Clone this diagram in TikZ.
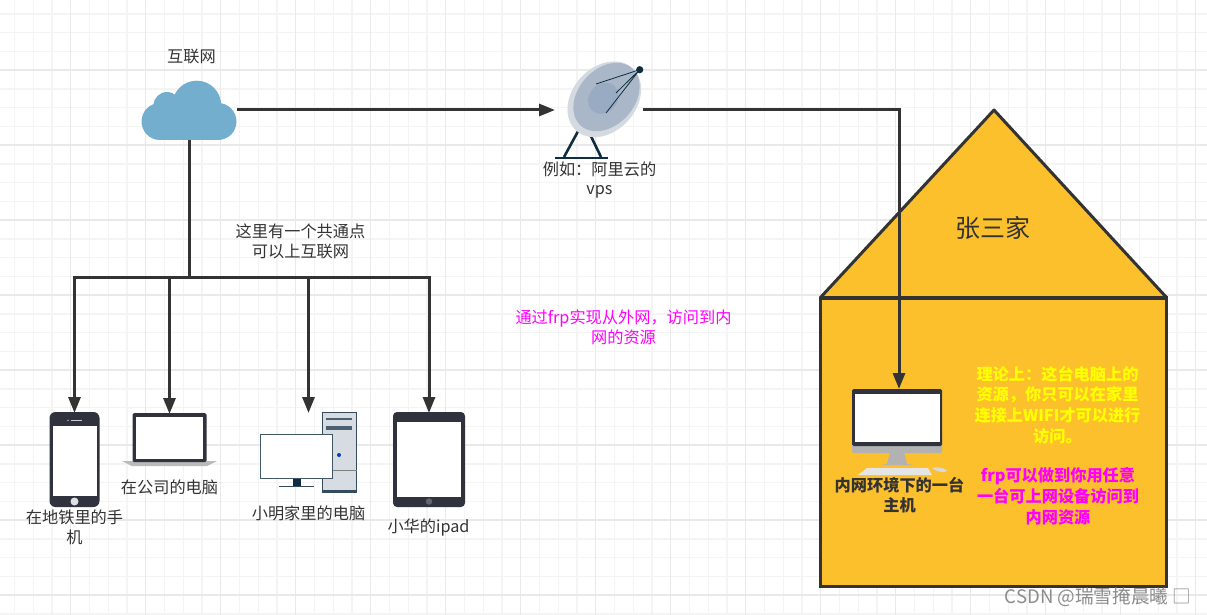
\documentclass[tikz,border=0pt]{standalone}
\usepackage{fontspec}
\setmainfont{Noto Sans CJK SC}
\usetikzlibrary{arrows,arrows.meta,positioning,calc}

\definecolor{gridminor}{HTML}{F4F4F4}
\definecolor{gridmajor}{HTML}{E9E9E9}
\definecolor{linedark}{HTML}{333333}
\definecolor{slatedark}{HTML}{30333E}
\definecolor{navydark}{HTML}{0F2D40}
\definecolor{cloudblue}{HTML}{73AECF}
\definecolor{houseyellow}{HTML}{FCC02D}
\definecolor{dishrim}{HTML}{D5DAE0}
\definecolor{dishface}{HTML}{AAB7C8}
\definecolor{dishcentre}{HTML}{98ABC2}
\definecolor{towergrey}{HTML}{D6DCE1}
\definecolor{notemagenta}{HTML}{FF00FF}
\definecolor{noteyellow}{HTML}{FFFF00}

\tikzset{
    gridthin/.style={draw=gridminor,line width=1.3pt},
    gridthick/.style={draw=gridmajor,line width=1.3pt},
    arc/.style={draw=linedark,line width=3pt,-{Triangle[length=16pt,width=12pt]}},
    arcplain/.style={draw=linedark,line width=3pt},
    label/.style={align=center,text=linedark,font=\fontsize{16.2}{19.8}\selectfont,inner sep=0pt},
    boldlabel/.style={align=center,font=\fontsize{16.2}{20.8}\selectfont\bfseries,inner sep=0pt},
    part/.style={inner sep=0pt,outer sep=0pt,draw=none}
}

\begin{document}
\begin{tikzpicture}[x=1pt,y=-1pt]
    \useasboundingbox (0,0) rectangle (1207,615);
    \fill[white] (0,0) rectangle (1207,615);

    % Grid
    \foreach \gx in {14.45,33.2,...,1207} {\draw[gridthin] (\gx,0) -- (\gx,615);}
    \foreach \gy in {14,32.75,...,615} {\draw[gridthin] (0,\gy) -- (1207,\gy);}
    \foreach \gx in {70.7,145.7,...,1207} {\draw[gridthick] (\gx,0) -- (\gx,615);}
    \foreach \gy in {70,145,...,615} {\draw[gridthick] (0,\gy) -- (1207,\gy);}

    % House
    \fill[houseyellow] (820,298) -- (994,110) -- (1167,298) -- cycle;
    \draw[arcplain,line join=round] (820,298) -- (994,110) -- (1167,298);
    \node[part,fill=houseyellow,draw=linedark,line width=3pt,minimum width=346pt,minimum height=288pt] (house) at (993,442) {};
    \draw[draw=linedark,line width=4pt] (house.north west) -- ([xshift=2pt]house.north east);
    \node[inner sep=0pt,text=linedark,font=\fontsize{25}{28}\selectfont] (houselabel) at (993,228) {张三家};

    % Cloud
    \node[part,minimum width=96pt,minimum height=60pt] (cloud) at (189,110) {};
    \fill[cloudblue] (196.7,105.2) circle (24.5) (167,105.5) circle (13.5) (160,121.5) circle (18.5) (218,121.5) circle (18.5);
    \fill[cloudblue] (160,105) rectangle (218,140);
    \node[label] (cloudlabel) at (191.5,57) {互联网};

    % Dish
    \node[part,minimum width=88pt,minimum height=90pt] (dish) at (599,110) {};
    \draw[navydark,line width=2.6pt] (582,124) -- (564,157) (587,128) -- (601,157);
    \draw[navydark,line width=2.6pt] (555,158) -- (608,158);
    \fill[dishrim,rotate around={48:(604.3,99.3)}] (604.3,99.3) ellipse (42 and 32);
    \fill[dishface,rotate around={48:(606.5,97)}] (606.5,97) ellipse (38.5 and 28);
    \fill[dishcentre,rotate around={48:(603.3,98.3)}] (603.3,98.3) ellipse (16.5 and 14);
    \fill[navydark] (639.7,69.7) circle (3.6);
    \draw[navydark,line width=0.8pt] (596,84) -- (639.7,69.7) (616,93) -- (639.7,69.7) (606,113) -- (639.7,69.7);
    \node[label] (dishlabel) at (599.5,180) {例如：阿里云的\\vps};

    % Phone
    \node[part,fill=slatedark,rounded corners=6pt,minimum width=50pt,minimum height=95pt] (phone) at (74.5,459.5) {};
    \node[part,fill=white,minimum width=44pt,minimum height=70pt] (phonescreen) at (74.5,461) {};
    \node[part,fill=white!85!slatedark,circle,minimum size=8pt] (phonebutton) at (74.5,501.5) {};
    \draw[white!75!slatedark,line width=0.8pt] (71,420.3) -- (82,420.3);
    \fill[white!75!slatedark] (68,420.3) circle (0.8);
    \node[label] (phonelabel) at (74.5,527.5) {在地铁里的手\\机};

    % Laptop
    \fill[black!27] (122,461) -- (217,461) -- (207,466) -- (132,466) -- cycle;
    \node[part,fill=slatedark,rounded corners=1.5pt,minimum width=74pt,minimum height=49pt] (laptop) at (169.5,437.5) {};
    \node[part,fill=white,minimum width=67pt,minimum height=42pt] (laptopscreen) at (169.5,438) {};
    \node[label] (laptoplabel) at (169.5,487) {在公司的电脑};

    % Desktop
    \node[part,minimum width=96pt,minimum height=79pt] (desktop) at (308.5,452.5) {};
    \node[part,fill=towergrey,draw=navydark!85,line width=1pt,minimum width=34pt,minimum height=80pt] (tower) at (339.5,452.5) {};
    \fill[navydark!85] (322,490) rectangle (356.5,493);
    \draw[navydark!75,line width=2pt] (326,418.7) -- (352,418.7);
    \draw[navydark!75,line width=4pt] (326,428.3) -- (352,428.3);
    \draw[black!50,line width=0.6pt] (322,470) -- (356.5,470);
    \fill[blue!70!cyan!80!black] (339,455) circle (2);
    \node[part,fill=white,draw=navydark!80,line width=1pt,minimum width=72pt,minimum height=44.5pt] (monitor) at (296.8,456.5) {};
    \fill[navydark] (293,479) rectangle (300.5,486);
    \draw[navydark!85,line width=1.6pt] (279,486.3) -- (314,486.3);
    \node[label] (desktoplabel) at (308.5,513.5) {小明家里的电脑};

    % Tablet
    \node[part,fill=slatedark,rounded corners=4pt,minimum width=72pt,minimum height=95pt] (tablet) at (429,459.5) {};
    \node[part,fill=white,minimum width=64.5pt,minimum height=75pt] (tabletscreen) at (429,459.5) {};
    \node[part,fill=white!25!slatedark,circle,minimum size=6.5pt] (tabletbutton) at (429,501.5) {};
    \node[label] (tabletlabel) at (428.5,527.5) {小华的ipad};

    % iMac
    \fill[black!30] (890,452) -- (904,452) -- (907,464) -- (914,465) -- (881,465) -- (887,464) -- cycle;
    \node[part,fill=black!30,rounded corners=2pt,minimum width=90pt,minimum height=20pt] (imacchin) at (897,443) {};
    \node[part,fill=slatedark,rounded corners=1.5pt,minimum width=90pt,minimum height=57pt] (imac) at (897,417.5) {};
    \node[part,fill=white,minimum width=85pt,minimum height=48pt] (imacscreen) at (897,418) {};
    \fill[white!90!black] (867,468) -- (928,468) -- (932,475) -- (858,475) -- cycle;
    \fill[white!85!black] (932,468) .. controls (938,466) and (947,469) .. (947,471) .. controls (944,473) and (936,472) .. (932,468);
    \node[label,font=\fontsize{16.2}{20}\selectfont\bfseries] (imaclabel) at (899.5,495) {内网环境下的一台\\主机};

    % Middle and house notes
    \node[label,text=notemagenta] (notefrp) at (623.5,327.5) {通过frp实现从外网，访问到内\\网的资源};
    \node[label] (notecommon) at (300.5,241.5) {这里有一个共通点\\可以上互联网};
    \node[boldlabel,text=noteyellow] (notetheory) at (1057.5,405) {理论上：这台电脑上的\\资源，你只可以在家里\\连接上WIFI才可以进行\\访问。};
    \node[boldlabel,text=notemagenta] (notemagic) at (1058,496) {frp可以做到你用任意\\一台可上网设备访问到\\内网资源};

    % Arcs
    \coordinate (bus) at (189,277);
    \draw[arcplain] (cloud.south) -- (bus);
    \draw[arc] (bus) -| ([yshift=-1pt]phone.north);
    \draw[arc] (bus) -| ([yshift=-1pt]laptop.north);
    \draw[arc] (bus) -| (desktop.north);
    \draw[arc] (bus) -| ([yshift=-1pt]tablet.north);
    \draw[arc] (cloud.east) -- (dish.west);
    \coordinate (imactop) at (899,389);
    \draw[arc] (dish.east) -| (imactop);

    % Watermark
    \node[inner sep=0pt,text=black!45,font=\fontsize{18.6}{20}\selectfont] (mark) at (1098,597) {CSDN @瑞雪掩晨曦 □};
\end{tikzpicture}
\end{document}
